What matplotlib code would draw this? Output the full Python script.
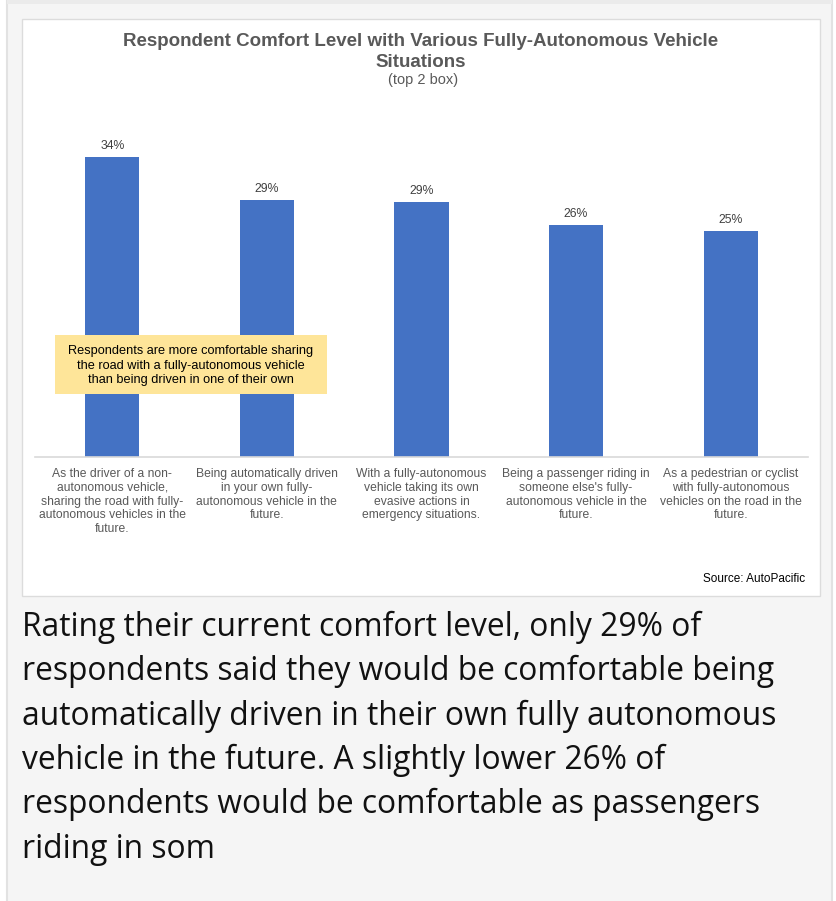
import matplotlib
matplotlib.use("Agg")
import matplotlib.pyplot as plt
from matplotlib.patches import Rectangle

# ---- data ----
categories = [
    "As the driver of a non-\nautonomous vehicle,\nsharing the road with fully-\nautonomous vehicles in the\nfuture.",
    "Being automatically driven\nin your own fully-\nautonomous vehicle in the\nfuture.",
    "With a fully-autonomous\nvehicle taking its own\nevasive actions in\nemergency situations.",
    "Being a passenger riding in\nsomeone else's fully-\nautonomous vehicle in the\nfuture.",
    "As a pedestrian or cyclist\nwith fully-autonomous\nvehicles on the road in the\nfuture.",
]
values = [33.7, 28.9, 28.7, 26.1, 25.4]
value_labels = ["34%", "29%", "29%", "26%", "25%"]
title_line1 = "Respondent Comfort Level with Various Fully-Autonomous Vehicle"
title_line2 = "Situations"
subtitle = "(top 2 box)"
note = "Respondents are more comfortable sharing\nthe road with a fully-autonomous vehicle\nthan being driven in one of their own"
source = "Source: AutoPacific"
body_lines = [
    "Rating their current comfort level, only 29% of",
    "respondents said they would be comfortable being",
    "automatically driven in their own fully autonomous",
    "vehicle in the future. A slightly lower 26% of",
    "respondents would be comfortable as passengers",
    "riding in som",
]

W, H = 836, 901
fig = plt.figure(figsize=(W / 100, H / 100), dpi=100)
fig.patch.set_facecolor("white")

def fx(x):
    return x / W

def fy(y):
    return 1 - y / H

def rect(x0, y0, x1, y1, **kw):
    fig.patches.append(Rectangle((fx(x0), fy(y1)), fx(x1) - fx(x0), fy(y0) - fy(y1),
                                 transform=fig.transFigure, **kw))

# outer grey panel
rect(7, 0, 832, 905, facecolor="#f5f5f5", edgecolor="#e2e2e2", linewidth=1.5, zorder=-3)
rect(7, 0, 832, 4, facecolor="#ebebeb", edgecolor="none", zorder=-2.5)
# white chart card
rect(22, 19, 820, 596, facecolor="white", edgecolor="#dcdcdc", linewidth=1.0, zorder=-2)

# axes
ax_left, ax_right, ax_top, ax_bottom = 35, 808, 100, 457
ax = fig.add_axes([fx(ax_left), fy(ax_bottom), fx(ax_right) - fx(ax_left), fy(ax_top) - fy(ax_bottom)])
ax.set_zorder(1)
ax.patch.set_visible(False)
px_per_unit = 300 / values[0]
ax.set_ylim(0, (ax_bottom - ax_top) / px_per_unit)
ax.set_xlim(-0.5, len(values) - 0.5)
x = list(range(len(values)))
ax.bar(x, values, width=0.35, color="#4472C4", zorder=2)
for xi, v, lab in zip(x, values, value_labels):
    ax.annotate(lab, (xi, v), xytext=(0, 5), textcoords="offset pixels",
                ha="center", va="bottom", fontsize=8.8, color="#404040",
                family="Liberation Sans")
for s in ["top", "right", "left"]:
    ax.spines[s].set_visible(False)
ax.spines["bottom"].set_color("#d9d9d9")
ax.spines["bottom"].set_linewidth(1.2)
ax.set_yticks([])
ax.set_xticks(x)
ax.set_xticklabels(categories, fontsize=8.75, color="#595959", family="Liberation Sans",
                   linespacing=1.19, va="top")
ax.tick_params(axis="x", length=0, pad=8)

# title
fig.text(fx(421), fy(46), title_line1, ha="center", va="baseline", fontsize=13.5,
         fontweight="bold", color="#595959", family="Liberation Sans")
fig.text(fx(421), fy(66.8), title_line2, ha="center", va="baseline", fontsize=13.5,
         fontweight="bold", color="#595959", family="Liberation Sans")
fig.text(fx(423), fy(84), subtitle, ha="center", va="baseline", fontsize=10.5,
         color="#595959", family="Liberation Sans")

# note box
rect(55, 335, 327, 394, facecolor="#FEE599", edgecolor="none", zorder=3)
fig.text(fx(191), fy(365.8), note, ha="center", va="center", fontsize=9.15,
         color="black", family="Liberation Sans", linespacing=1.3, zorder=4)

# source
fig.text(fx(805), fy(579), source, ha="right", va="center", fontsize=8.45,
         color="black", family="Liberation Sans")

# body text
baselines = [636, 680.3, 724.6, 768.9, 813.2, 857.5]
for line, b in zip(body_lines, baselines):
    fig.text(fx(22), fy(b), line, ha="left", va="baseline", fontsize=22.9,
             color="#111111", family="Open Sans")

fig.savefig("out.png", dpi=100)
